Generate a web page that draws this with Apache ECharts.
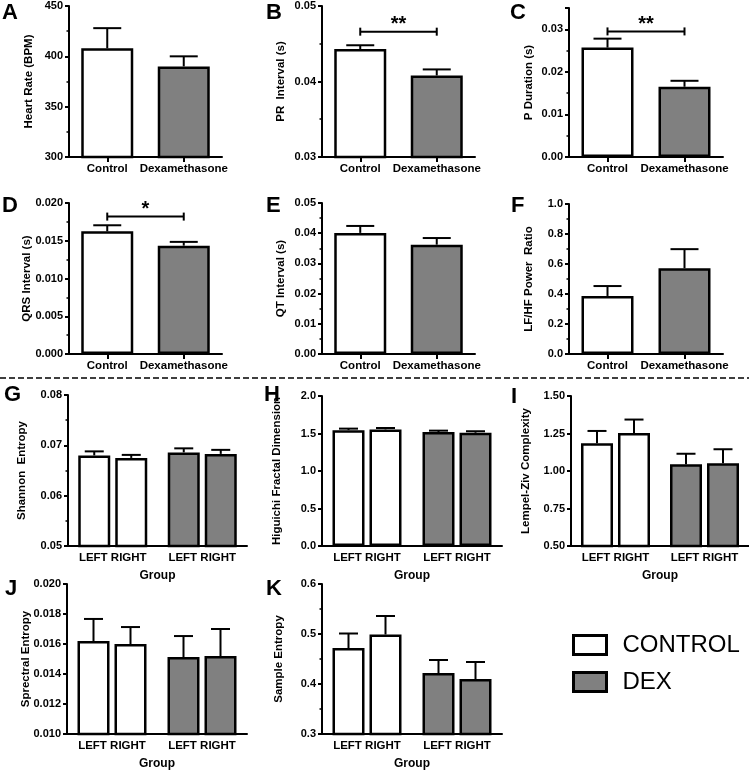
<!DOCTYPE html>
<html>
<head>
<meta charset="utf-8">
<script src="https://cdn.jsdelivr.net/npm/echarts@6/dist/echarts.min.js"></script>
<style>
html, body { margin: 0; padding: 0; background: #fff; }
#chart { width: 749px; height: 770px; }
</style>
</head>
<body>
<div id="chart"></div>
<script>
// 常量
var FONT = 'Liberation Sans, Arial, sans-serif'
var WHITE = '#ffffff'
var GREY = '#808080'
var groupColors = [WHITE, GREY]

// 数据 - A..F (Control / Dexamethasone, mean + SEM)
var treatCats = ['Control', 'Dexamethasone']
var heartMean = [408, 390]
var heartSem = [20, 10]
var prMean = [0.0443, 0.0408]
var prSem = [0.0005, 0.0008]
var pDurMean = [0.0257, 0.0165]
var pDurSem = [0.0021, 0.0014]
var qrsMean = [0.01625, 0.01435]
var qrsSem = [0.0008, 0.0005]
var qtMean = [0.0401, 0.0362]
var qtSem = [0.0023, 0.0022]
var lfhfMean = [0.387, 0.572]
var lfhfSem = [0.066, 0.127]

// significance brackets
var prSig = [0.0466]
var pDurSig = [0.0295]
var qrsSig = [0.0182]

// 数据 - G..K ([control, dex] for each side)
var groupCats = ['CONTROL', 'DEX']
var sideLabels = ['LEFT', 'RIGHT']
var shannonLeft = [0.0680, 0.0686]
var shannonLeftSem = [0.0008, 0.0008]
var shannonRight = [0.0675, 0.0683]
var shannonRightSem = [0.0006, 0.0008]
var higuchiLeft = [1.545, 1.52]
var higuchiLeftSem = [0.02, 0.018]
var higuchiRight = [1.555, 1.51]
var higuchiRightSem = [0.018, 0.02]
var lzLeft = [1.185, 1.045]
var lzLeftSem = [0.082, 0.07]
var lzRight = [1.253, 1.052]
var lzRightSem = [0.09, 0.093]
var specLeft = [0.0162, 0.01513]
var specLeftSem = [0.00147, 0.0014]
var specRight = [0.0160, 0.0152]
var specRightSem = [0.00113, 0.0018]
var sampLeft = [0.472, 0.422]
var sampLeftSem = [0.029, 0.026]
var sampRight = [0.499, 0.410]
var sampRightSem = [0.037, 0.034]

var grids = [], xAxes = [], yAxes = [], series = []

function textStyleBold(size) {
    return { color: '#000', fontFamily: FONT, fontWeight: 'bold', fontSize: size }
}

function errorBar(offset, capW) {
    return function (params, api) {
        var x = api.value(0)
        var top = api.coord([x, api.value(1)])
        var end = api.coord([x, api.value(2)])
        var cx = top[0] + offset
        var st = { stroke: '#000', lineWidth: 2 }
        return {
            type: 'group',
            children: [
                { type: 'line', shape: { x1: cx, y1: top[1], x2: cx, y2: end[1] }, style: st },
                { type: 'line', shape: { x1: cx - capW / 2, y1: end[1], x2: cx + capW / 2, y2: end[1] }, style: st }
            ]
        }
    }
}

function sigBracket(text) {
    return function (params, api) {
        var a = api.coord([0, api.value(0)])
        var b = api.coord([1, api.value(0)])
        var y = a[1]
        var st = { stroke: '#000', lineWidth: 2 }
        return {
            type: 'group',
            children: [
                { type: 'line', shape: { x1: a[0], y1: y, x2: b[0], y2: y }, style: st },
                { type: 'line', shape: { x1: a[0], y1: y - 4, x2: a[0], y2: y + 4 }, style: st },
                { type: 'line', shape: { x1: b[0], y1: y - 4, x2: b[0], y2: y + 4 }, style: st },
                {
                    type: 'text', x: (a[0] + b[0]) / 2, y: y - 7,
                    style: { text: text, fill: '#000', font: 'bold 20px ' + FONT, textAlign: 'center', textVerticalAlign: 'middle' }
                }
            ]
        }
    }
}

function addAxes(p, grouped) {
    var i = grids.length
    grids.push({ left: p.box[0], top: p.box[1], width: p.box[2], height: p.box[3], outerBoundsMode: 'none' })
    xAxes.push({
        gridIndex: i,
        type: 'category',
        data: grouped ? groupCats : treatCats,
        axisLine: { lineStyle: { color: '#000', width: 2 } },
        axisTick: { show: !grouped, alignWithLabel: true, length: 5, lineStyle: { color: '#000', width: 2 } },
        axisLabel: Object.assign(textStyleBold(11.5), {
            interval: 0,
            margin: 6,
            formatter: grouped ? function () { return sideLabels.join(' ') } : '{value}'
        }),
        name: grouped ? 'Group' : '',
        nameLocation: 'middle',
        nameGap: 24,
        nameMoveOverlap: false,
        nameTextStyle: textStyleBold(12)
    })
    yAxes.push({
        gridIndex: i,
        type: 'value',
        min: p.min,
        max: p.max,
        interval: p.interval,
        axisLine: { show: true, lineStyle: { color: '#000', width: 2 } },
        axisTick: { show: true, length: 4, lineStyle: { color: '#000', width: 2 } },
        minorTick: { show: p.minor, splitNumber: 2, length: 2.5, lineStyle: { color: '#000', width: 1.5 } },
        splitLine: { show: false },
        axisLabel: Object.assign(textStyleBold(11), {
            margin: 6,
            showMaxLabel: p.showMax !== false,
            formatter: function (v) { return v.toFixed(p.dec) }
        }),
        name: p.name,
        nameLocation: 'middle',
        nameGap: p.nameGap,
        nameMoveOverlap: false,
        nameTextStyle: textStyleBold(11.5)
    })
    return i
}

function addSinglePanel(p) {
    var i = addAxes(p, false)
    var bw = 52
    series.push({
        type: 'bar', xAxisIndex: i, yAxisIndex: i,
        barWidth: bw,
        data: p.mean.map(function (v, k) {
            return { value: v, itemStyle: { color: groupColors[k], borderColor: '#000', borderWidth: 2.5 } }
        })
    })
    series.push({
        type: 'custom', xAxisIndex: i, yAxisIndex: i, z: 3,
        renderItem: errorBar(0, 28),
        encode: { x: 0, y: [1, 2] },
        data: p.mean.map(function (v, k) { return [k, v, v + p.sem[k]] })
    })
    if (p.sig) {
        series.push({
            type: 'custom', xAxisIndex: i, yAxisIndex: i, z: 4,
            renderItem: sigBracket(p.sigText),
            encode: { y: 0 },
            data: p.sig.map(function (v) { return [v] })
        })
    }
}

function addGroupedPanel(p) {
    var i = addAxes(p, true)
    var bw = 32, gap = 5
    var off = (bw + gap) / 2
    var sides = [[p.left, p.leftSem, -off], [p.right, p.rightSem, off]]
    sides.forEach(function (s, n) {
        series.push({
            type: 'bar', xAxisIndex: i, yAxisIndex: i,
            name: sideLabels[n],
            barWidth: bw,
            barGap: (gap / bw * 100) + '%',
            data: s[0].map(function (v, k) {
                return { value: v, itemStyle: { color: groupColors[k], borderColor: '#000', borderWidth: 2.5 } }
            })
        })
    })
    sides.forEach(function (s) {
        series.push({
            type: 'custom', xAxisIndex: i, yAxisIndex: i, z: 3,
            renderItem: errorBar(s[2], 19),
            encode: { x: 0, y: [1, 2] },
            data: s[0].map(function (v, k) { return [k, v, v + s[1][k]] })
        })
    })
}

// A-F
addSinglePanel({ box: [69, 6, 153, 151], min: 300, max: 450, interval: 50, minor: true, dec: 0,
    name: 'Heart Rate (BPM)', nameGap: 34, mean: heartMean, sem: heartSem })
addSinglePanel({ box: [322, 6, 153, 151], min: 0.03, max: 0.05, interval: 0.01, minor: true, dec: 2,
    name: 'PR  Interval (s)', nameGap: 35, mean: prMean, sem: prSem, sig: prSig, sigText: '**' })
addSinglePanel({ box: [569, 8, 154, 149], min: 0, max: 0.035, interval: 0.01, minor: true, dec: 2, showMax: false,
    name: 'P Duration (s)', nameGap: 34, mean: pDurMean, sem: pDurSem, sig: pDurSig, sigText: '**' })
addSinglePanel({ box: [69, 203, 153, 151], min: 0, max: 0.02, interval: 0.005, minor: true, dec: 3,
    name: 'QRS Interval (s)', nameGap: 36, mean: qrsMean, sem: qrsSem, sig: qrsSig, sigText: '*' })
addSinglePanel({ box: [322, 203, 153, 151], min: 0, max: 0.05, interval: 0.01, minor: true, dec: 2,
    name: 'QT Interval (s)', nameGap: 35, mean: qtMean, sem: qtSem })
addSinglePanel({ box: [569, 204, 154, 150], min: 0, max: 1, interval: 0.2, minor: true, dec: 1,
    name: 'LF/HF Power  Ratio', nameGap: 34, mean: lfhfMean, sem: lfhfSem })

// G-K
addGroupedPanel({ box: [68, 395, 179, 151], min: 0.05, max: 0.08, interval: 0.01, minor: true, dec: 2,
    name: 'Shannon  Entropy', nameGap: 40, left: shannonLeft, leftSem: shannonLeftSem, right: shannonRight, rightSem: shannonRightSem })
addGroupedPanel({ box: [322, 396, 180, 150], min: 0, max: 2, interval: 0.5, minor: false, dec: 1,
    name: 'Higuichi Fractal Dimension', nameGap: 39, left: higuchiLeft, leftSem: higuchiLeftSem, right: higuchiRight, rightSem: higuchiRightSem })
addGroupedPanel({ box: [571, 396, 178, 150], min: 0.5, max: 1.5, interval: 0.25, minor: false, dec: 2,
    name: 'Lempel-Ziv Complexity', nameGap: 39, left: lzLeft, leftSem: lzLeftSem, right: lzRight, rightSem: lzRightSem })
addGroupedPanel({ box: [67, 584, 180, 150], min: 0.01, max: 0.02, interval: 0.002, minor: false, dec: 3,
    name: 'Sprectral Entropy', nameGap: 35, left: specLeft, leftSem: specLeftSem, right: specRight, rightSem: specRightSem })
addGroupedPanel({ box: [322, 584, 180, 150], min: 0.3, max: 0.6, interval: 0.1, minor: true, dec: 1,
    name: 'Sample Entropy', nameGap: 37, left: sampLeft, leftSem: sampLeftSem, right: sampRight, rightSem: sampRightSem })

// legend series (no data)
series.push({ type: 'line', name: 'CONTROL', data: [], xAxisIndex: 0, yAxisIndex: 0 })
series.push({ type: 'line', name: 'DEX', data: [], xAxisIndex: 0, yAxisIndex: 0 })

// panel letters
var letters = [
    ['A', 2, 2], ['B', 266, 2], ['C', 510, 2],
    ['D', 2, 195], ['E', 266, 195], ['F', 511, 195],
    ['G', 4, 384], ['H', 264, 384], ['I', 511, 386],
    ['J', 5, 578], ['K', 266, 578]
]

var option = {
    animation: false,
    backgroundColor: '#fff',
    grid: grids,
    xAxis: xAxes,
    yAxis: yAxes,
    series: series,
    legend: {
        orient: 'vertical',
        left: 567,
        top: 628,
        itemWidth: 33,
        itemHeight: 19,
        itemGap: 13,
        textStyle: { color: '#000', fontFamily: FONT, fontSize: 24, padding: [0, 0, 0, 11] },
        data: [
            { name: 'CONTROL', icon: 'rect', itemStyle: { color: WHITE, borderColor: '#000', borderWidth: 3 } },
            { name: 'DEX', icon: 'rect', itemStyle: { color: GREY, borderColor: '#000', borderWidth: 3 } }
        ]
    },
    graphic: [{
        type: 'line',
        shape: { x1: 0, y1: 378, x2: 749, y2: 378 },
        style: { stroke: '#000', lineWidth: 1.5, lineDash: [6, 3] }
    }].concat(letters.map(function (l) {
        return {
            type: 'text', left: l[1], top: l[2],
            style: { text: l[0], fill: '#000', font: 'bold 22px ' + FONT }
        }
    }))
}

var chart = echarts.init(document.getElementById('chart'))
chart.setOption(option)
</script>
</body>
</html>
